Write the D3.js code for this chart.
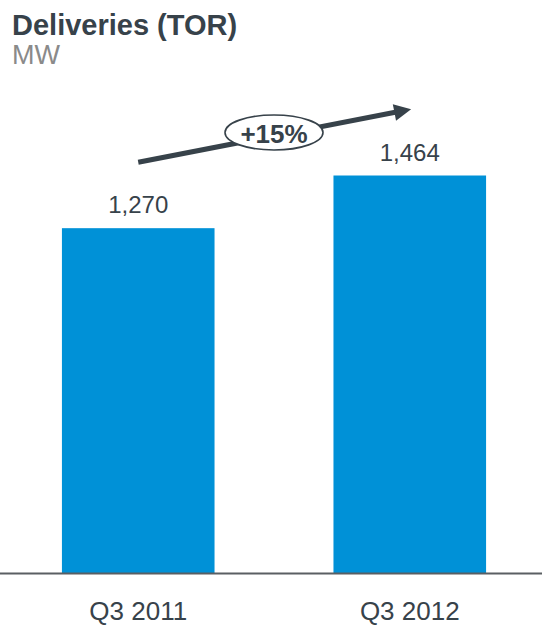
<!DOCTYPE html>
<html>
<head>
<meta charset="utf-8">
<script src="https://cdn.jsdelivr.net/npm/d3@7"></script>
<style>
  html, body { margin: 0; padding: 0; background: #fff; }
  svg { display: block; font-family: "Liberation Sans", Arial, sans-serif; }
</style>
</head>
<body>
<svg id="chart" width="542" height="626"></svg>
<script>
const categories = ["Q3 2011", "Q3 2012"];
const values = [1270, 1464];
const title = "Deliveries (TOR)";
const unit = "MW";

const W = 542, H = 626;
const svg = d3.select("#chart");
const textColor = "#37424a";
const barColor = "#0091d7";

const x = d3.scaleBand().domain(categories).range([3, 545]).paddingInner(0.438).paddingOuter(0.217);
const y = d3.scaleLinear().domain([0, 1464]).range([573, 175.5]);

// Title
svg.append("text").attr("x", 12).attr("y", 35)
  .attr("font-size", 29).attr("font-weight", "bold").attr("fill", textColor).text(title);
svg.append("text").attr("x", 12).attr("y", 64)
  .attr("font-size", 27).attr("fill", "#8a8a8a").text(unit);

// Bars
svg.selectAll("rect.bar").data(values).enter().append("rect")
  .attr("class", "bar")
  .attr("x", (d, i) => x(categories[i]))
  .attr("width", x.bandwidth())
  .attr("y", d => y(d))
  .attr("height", d => y(0) - y(d))
  .attr("fill", barColor);

// Value labels
const fmt = d3.format(",");
svg.selectAll("text.val").data(values).enter().append("text")
  .attr("class", "val")
  .attr("x", (d, i) => x(categories[i]) + x.bandwidth() / 2)
  .attr("y", d => y(d) - 15)
  .attr("text-anchor", "middle")
  .attr("font-size", 24).attr("fill", textColor)
  .text(d => fmt(d));

// Baseline axis
const xAxis = d3.axisBottom(x).tickSize(0).tickPadding(30);
const ax = svg.append("g").attr("transform", `translate(0,${y(0)})`).call(xAxis);
ax.select(".domain").remove();
ax.selectAll("text").attr("font-size", 26).attr("fill", textColor)
  .attr("font-family", "Liberation Sans, Arial, sans-serif").attr("dy", "0.71em").attr("y", 29);
svg.append("line").attr("x1", 0).attr("x2", W).attr("y1", y(0) + 0.5).attr("y2", y(0) + 0.5)
  .attr("stroke", "#5a5f63").attr("stroke-width", 2);

// Growth arrow
const x0 = x(categories[0]) + x.bandwidth() / 2;
const x1 = x(categories[1]) + x.bandwidth() / 2;
const ya = y(values[0]) - 66;
const yb = y(values[1]) - 66;
const defs = svg.append("defs");
defs.append("marker").attr("id", "head").attr("viewBox", "0 0 10 10")
  .attr("refX", 2).attr("refY", 5).attr("markerWidth", 3.6).attr("markerHeight", 3.4)
  .attr("orient", "auto").attr("markerUnits", "strokeWidth")
  .append("path").attr("d", "M0,0 L10,5 L0,10 Z").attr("fill", textColor);
svg.append("line").attr("x1", x0).attr("y1", ya).attr("x2", x1 - 12).attr("y2", yb + (yb - ya) * (-12) / (x1 - x0))
  .attr("stroke", textColor).attr("stroke-width", 5).attr("marker-end", "url(#head)");

const growth = values[1] / values[0] - 1;
const cx = 274, cy = 132.5;
svg.append("ellipse").attr("cx", cx).attr("cy", cy).attr("rx", 49).attr("ry", 17.5)
  .attr("fill", "#fff").attr("stroke", textColor).attr("stroke-width", 1.6);
svg.append("text").attr("x", cx).attr("y", cy + 10).attr("text-anchor", "middle")
  .attr("font-size", 26).attr("font-weight", "bold").attr("fill", textColor)
  .text("+" + d3.format(".0%")(growth));
</script>
</body>
</html>
